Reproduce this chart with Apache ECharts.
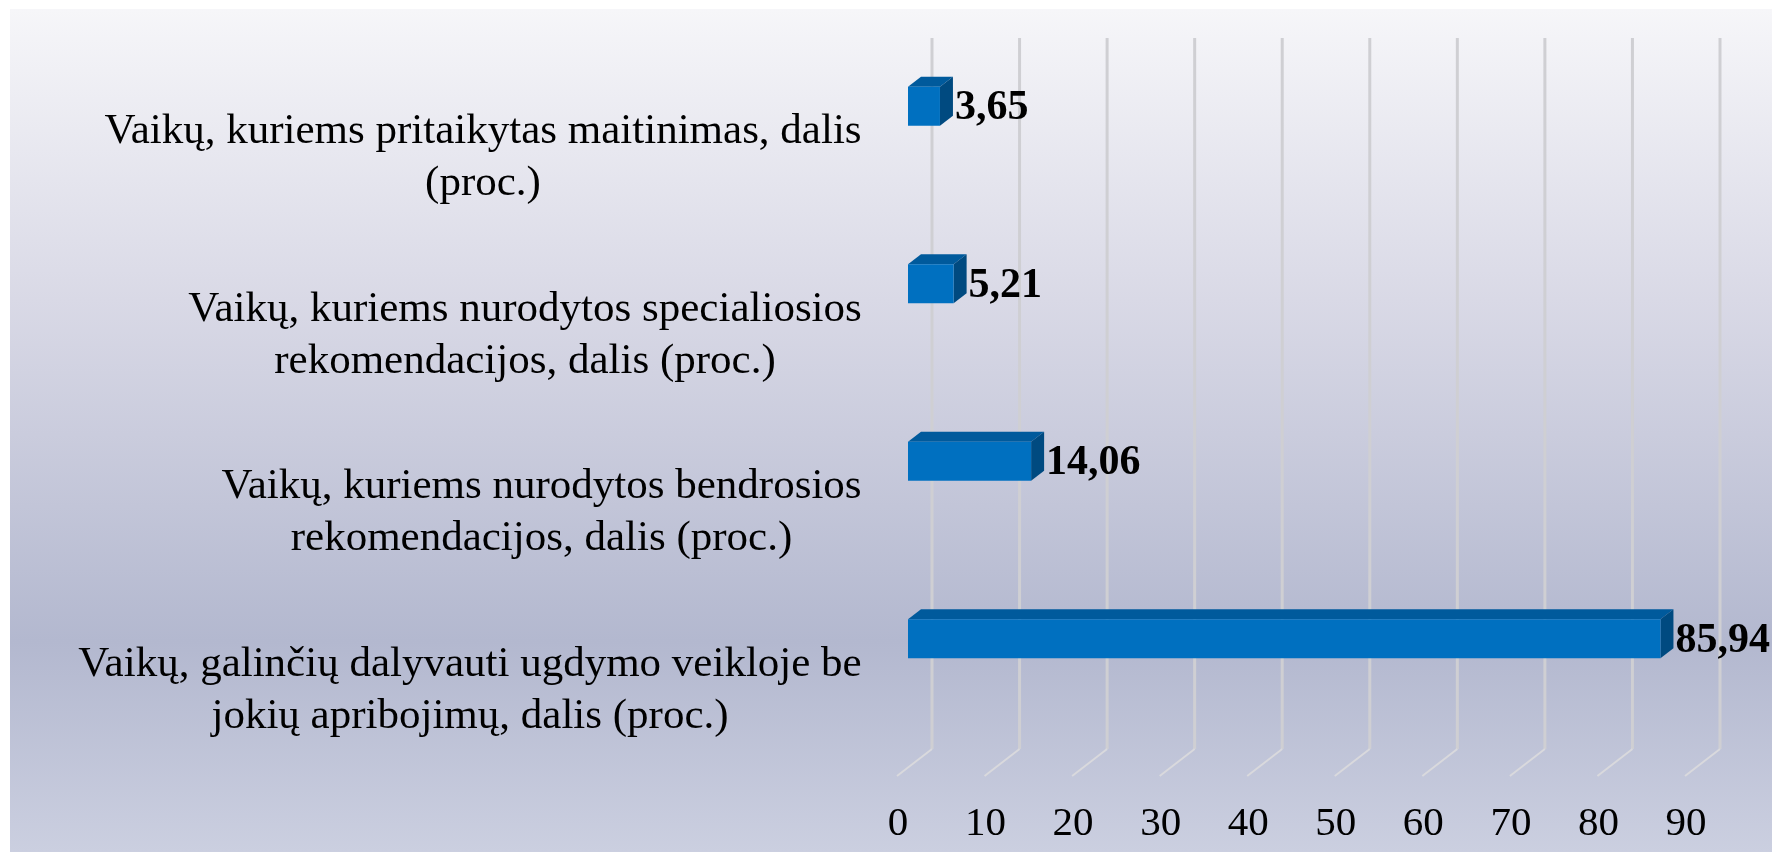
<!DOCTYPE html>
<html><head><meta charset="utf-8">
<style>html,body{margin:0;padding:0;background:#fff}#c{width:1772px;height:852px}</style>
<script src="https://cdn.jsdelivr.net/npm/echarts@6/dist/echarts.min.js"></script>
</head><body><div id="c"></div>
<script>
const categories = [
  "Vaikų, kuriems pritaikytas maitinimas, dalis\n(proc.)",
  "Vaikų, kuriems nurodytos specialiosios\nrekomendacijos, dalis (proc.)",
  "Vaikų, kuriems nurodytos bendrosios\nrekomendacijos, dalis (proc.)",
  "Vaikų, galinčių dalyvauti ugdymo veikloje be\njokių apribojimų, dalis (proc.)"
];
const values = [3.65, 5.21, 14.06, 85.94];
const valueLabels = ["3,65", "5,21", "14,06", "85,94"];
const ticks = [0, 10, 20, 30, 40, 50, 60, 70, 80, 90];

const FONT = '"Liberation Serif","Times New Roman",serif';
const LABEL_SIZE = 43;
const ctx = document.createElement('canvas').getContext('2d');
ctx.font = LABEL_SIZE + 'px ' + FONT;
const rich = {};
categories.forEach((c, i) => {
  rich['c' + i] = {
    width: Math.ceil(Math.max(...c.split('\n').map(l => ctx.measureText(l).width))),
    align: 'center', fontFamily: FONT, fontSize: LABEL_SIZE, lineHeight: 52, color: '#000'
  };
});

const chart = echarts.init(document.getElementById('c'), null, {renderer: 'canvas'});
const BAR_H = 39, DX = 13, DY = 10, BAR_SHIFT = -51.5;
chart.setOption({
  animation: false,
  backgroundColor: '#fff',
  graphic: [{
    type: 'rect', z: -10, silent: true,
    shape: {x: 10, y: 9, width: 1762, height: 843},
    style: {fill: new echarts.graphic.LinearGradient(0, 0, 0, 1, [
      {offset: 0, color: '#f6f6f9'},
      {offset: 0.345, color: '#d9d9e6'},
      {offset: 0.75, color: '#b3b8cf'},
      {offset: 1, color: '#cbcfe0'}
    ])}
  }],
  grid: {left: 908, width: 788, top: 69, height: 710, containLabel: false},
  xAxis: {
    type: 'value', min: 0, max: 90, interval: 10,
    axisLine: {show: false}, axisTick: {show: false}, splitLine: {show: false},
    axisLabel: {
      margin: 25, padding: [0, 20, 0, 0],
      fontFamily: FONT, fontSize: 41, color: '#000'
    }
  },
  yAxis: {
    type: 'category', inverse: true, data: categories,
    axisLine: {show: false}, axisTick: {show: false}, splitLine: {show: false},
    axisLabel: {
      margin: 46, align: 'right', rich,
      formatter: (v) => {
        const k = 'c' + categories.indexOf(v);
        return v.split('\n').map(l => `{${k}|${l}}`).join('\n');
      }
    }
  },
  series: [
    {
      type: 'custom', name: 'wall', silent: true, z: 1,
      data: ticks.map(t => [t, 0]),
      encode: {x: 0, y: 1},
      clip: false,
      renderItem(params, api) {
        const x = api.coord([api.value(0), 0])[0];
        const g = params.coordSys;
        const yBottom = g.y + g.height;
        return {
          type: 'group',
          children: [
            {type: 'line', shape: {x1: x + 24, y1: g.y - 31, x2: x + 24, y2: yBottom - 30},
             style: {stroke: '#cfcfd3', lineWidth: 3}},
            {type: 'line', shape: {x1: x + 24, y1: yBottom - 30, x2: x - 11, y2: yBottom - 3},
             style: {stroke: '#d9d9dd', lineWidth: 2}}
          ]
        };
      }
    },
    {
      type: 'custom', name: 'bars', z: 2,
      data: values.map((v, i) => [v, i, valueLabels[i]]),
      encode: {x: 0, y: 1},
      clip: false,
      renderItem(params, api) {
        const end = api.coord([api.value(0), api.value(1)]);
        const x0 = params.coordSys.x, x1 = end[0];
        const yc = end[1] + BAR_SHIFT;
        const t = yc - BAR_H / 2, b = yc + BAR_H / 2;
        return {
          type: 'group',
          children: [
            {type: 'polygon', shape: {points: [[x0, t], [x0 + DX, t - DY], [x1 + DX, t - DY], [x1, t]]},
             style: {fill: '#005a9c'}},
            {type: 'polygon', shape: {points: [[x1, t], [x1 + DX, t - DY], [x1 + DX, b - DY], [x1, b]]},
             style: {fill: '#004a80'}},
            {type: 'rect', shape: {x: x0, y: t, width: x1 - x0, height: BAR_H},
             style: {fill: '#0070c0'}},
            {type: 'text', z2: 10, style: {
              text: valueLabels[params.dataIndex], x: x1 + DX + 2, y: yc + 2,
              align: 'left', verticalAlign: 'middle',
              font: 'bold 42px ' + FONT, fill: '#000'
            }}
          ]
        };
      }
    }
  ]
});
</script></body></html>
